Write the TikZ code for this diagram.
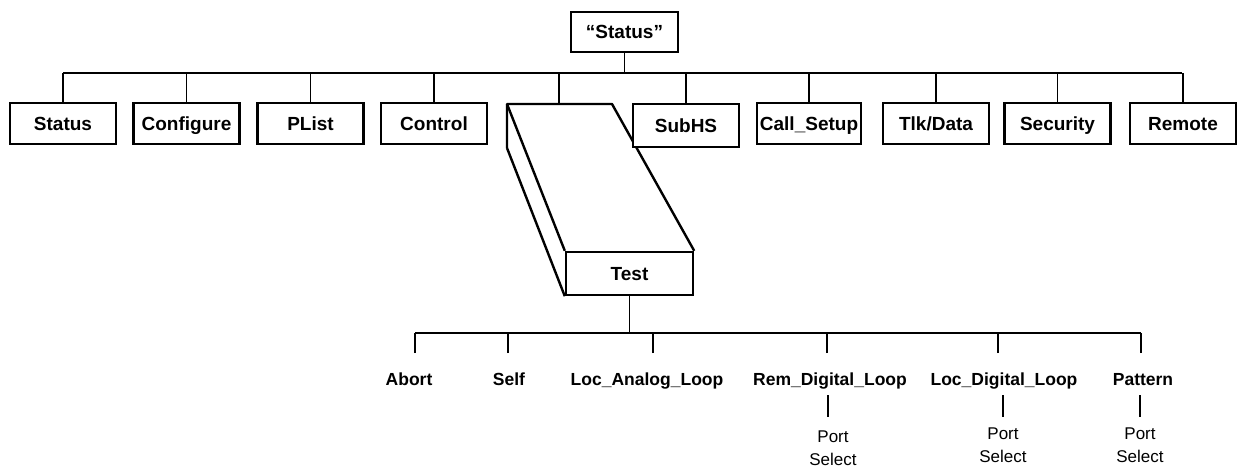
\documentclass[tikz,border=0pt]{standalone}
\usepackage{fontspec}
\setmainfont{Liberation Sans}
\begin{document}
\begin{tikzpicture}[x=1pt,y=-1pt,
  box/.style={draw,line width=2.4pt,fill=white,minimum width=106pt,minimum height=41pt,inner sep=0pt,text height=13.5pt,text depth=0pt,font=\fontsize{19}{21}\selectfont\bfseries},
  conn/.style={line width=1.3pt},
  solid3d/.style={line width=2.4pt,line join=round},
  leaf/.style={font=\fontsize{17.5}{20}\selectfont\bfseries,inner sep=0pt,anchor=base},
  port/.style={font=\fontsize{17}{23}\selectfont,align=center,inner sep=0pt,anchor=north}]
\useasboundingbox (0,0) rectangle (1238,469);

% root and first level
\node[box,minimum width=107pt,minimum height=40pt] (root) at (624.5,32) {“Status”};
\coordinate (busL) at (63,73);
\coordinate (busR) at (1182,73);

\node[box] (status) at (63,123.5) {Status};
\node[box] (configure) at (186.5,123.5) {Configure};
\node[box] (plist) at (310.5,123.5) {PList};
\node[box] (control) at (434,123.5) {Control};
\node[box,minimum width=104pt] (callsetup) at (809,123.5) {Call\_Setup};
\node[box] (tlkdata) at (936,123.5) {Tlk/Data};
\node[box] (security) at (1057.5,123.5) {Security};
\node[box] (remote) at (1183,123.5) {Remote};

% Test 3D box
\coordinate (tA) at (507,104);
\coordinate (tB) at (612,104);
\coordinate (tC) at (507,148);
\coordinate (tTop) at (559,104);
\node[box,minimum width=127pt,minimum height=43pt] (test) at (629.5,273.5) {Test};
\draw[solid3d] (tC) -- (tA) -- (tB) -- (test.north east);
\draw[solid3d] (tA) -- (test.north west);
\draw[solid3d] (tC) -- (test.south west);

\node[box,line width=2.8pt,minimum height=43pt] (subhs) at (686,125.5) {SubHS};

\draw[conn] (busL) -- (busR);
\draw[conn] (root.south) -- (root.south |- busL);
\foreach \n in {status,configure,plist,control,subhs,callsetup,tlkdata,security,remote}
  \draw[conn] (\n.north) -- (\n.north |- busL);
\draw[conn] (tTop) -- (tTop |- busL);

% second level
\coordinate (bus2L) at (415,333);
\coordinate (bus2R) at (1141,333);
\draw[conn] (bus2L) -- (bus2R);
\draw[conn] (test.south) -- (test.south |- bus2L);

\coordinate (dAbort) at (415,353);
\coordinate (dSelf) at (508,353);
\coordinate (dLAL) at (653,353);
\coordinate (dRDL) at (827,353);
\coordinate (dLDL) at (998,353);
\coordinate (dPat) at (1141,353);
\foreach \d in {dAbort,dSelf,dLAL,dRDL,dLDL,dPat}
  \draw[conn] (\d) -- (\d |- bus2L);

\node[leaf] (abort) at (409,385) {Abort};
\node[leaf] (self) at (509,385) {Self};
\node[leaf] (lal) at (647,385) {Loc\_Analog\_Loop};
\node[leaf] (rdl) at (830,385) {Rem\_Digital\_Loop};
\node[leaf] (ldl) at (1004,385) {Loc\_Digital\_Loop};
\node[leaf] (pat) at (1143,385) {Pattern};

\coordinate (rdlS) at (828,395);
\coordinate (ldlS) at (1003,395);
\coordinate (patS) at (1140,395);
\node[port] (p1) at (833,431) {Port\\Select};
\node[port] (p2) at (1003,428) {Port\\Select};
\node[port] (p3) at (1140,428) {Port\\Select};
\draw[conn] (rdlS) -- (rdlS |- 0,417);
\draw[conn] (ldlS) -- (ldlS |- 0,417);
\draw[conn] (patS) -- (patS |- 0,417);
\end{tikzpicture}
\end{document}
